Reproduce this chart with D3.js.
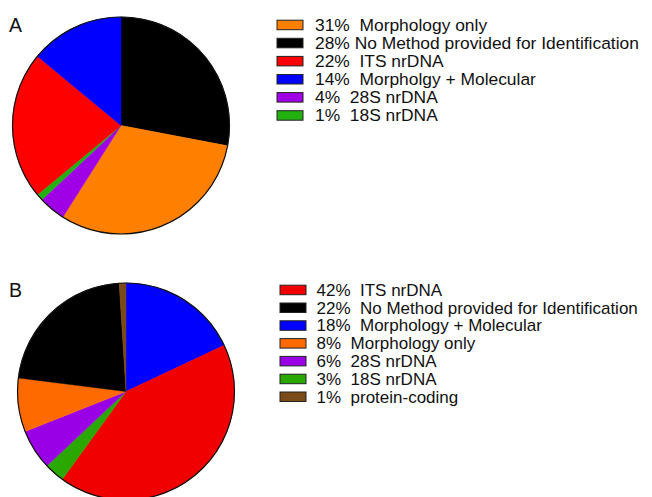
<!DOCTYPE html>
<html><head><meta charset="utf-8">
<script src="https://cdn.jsdelivr.net/npm/d3@7"></script>
<style>body{margin:0;background:#fff}svg{display:block}text{font-family:"Liberation Sans",Arial,sans-serif;white-space:pre}</style>
</head><body>
<svg id="c" width="652" height="497"></svg>
<script>
// Panel A (legend order)
const labelsA = ["31%  Morphology only","28% No Method provided for Identification","22%  ITS nrDNA","14%  Morpholgy + Molecular","4%  28S nrDNA","1%  18S nrDNA"];
const keysA = ["morph","none","its","morphmol","28s","18s"];
const valuesA = [31,28,22,14,4,1];
const pieOrderA = ["none","morph","28s","18s","its","morphmol"];
// Panel B (legend order)
const labelsB = ["42%  ITS nrDNA","22%  No Method provided for Identification","18%  Morphology + Molecular","8%  Morphology only","6%  28S nrDNA","3%  18S nrDNA","1%  protein-coding"];
const keysB = ["its","none","morphmol","morph","28s","18s","prot"];
const valuesB = [42,22,18,8,6,3,1];
const pieOrderB = ["morphmol","its","18s","28s","morph","none","prot"];
const colorsA = {morph:"#ff8000",none:"#000000",its:"#ff0000",morphmol:"#0000ff","28s":"#a000e6","18s":"#22b010"};
const colorsB = {morph:"#ff6a00",none:"#000000",its:"#f00000",morphmol:"#0000ff","28s":"#9a00e6","18s":"#2aa800",prot:"#7a4a18"};

const svg = d3.select("#c");

function panel(cfg){
  const g = svg.append("g");
  const data = cfg.order.map(k => ({key:k, value: cfg.values[cfg.keys.indexOf(k)]}));
  const pie = d3.pie().sort(null).value(d => d.value);
  const arc = d3.arc().innerRadius(0).outerRadius(cfg.r);
  const pg = g.append("g").attr("transform",`translate(${cfg.cx},${cfg.cy})`);
  pg.selectAll("path").data(pie(data)).join("path")
    .attr("d",arc).attr("fill",d=>cfg.colors[d.data.key])
    .attr("stroke",d=>cfg.colors[d.data.key]).attr("stroke-width",0.5);
  pg.append("circle").attr("r",cfg.r).attr("fill","none").attr("stroke","#111").attr("stroke-width",1.2);
  g.append("text").attr("x",cfg.lx).attr("y",cfg.ly).attr("font-size",19.5).attr("fill","#111").text(cfg.letter);
  const y = d3.scaleLinear().domain([0,1]).range([cfg.legY, cfg.legY + cfg.step]);
  const leg = g.selectAll("g.leg").data(cfg.keys).join("g").attr("class","leg")
    .attr("transform",(d,i)=>`translate(0,${y(i)})`);
  leg.append("rect").attr("x",cfg.boxX).attr("y",-10.5).attr("width",26).attr("height",9.5)
    .attr("fill",d=>cfg.colors[d]).attr("stroke","#222").attr("stroke-width",1);
  leg.append("text").attr("x",cfg.textX).attr("y",0).attr("font-size",cfg.fs).attr("fill","#111")
    .text((d,i)=>cfg.labels[i]);
}

panel({keys:keysA,values:valuesA,order:pieOrderA,labels:labelsA,colors:colorsA,fs:17.4,
  cx:121,cy:125.5,r:108.5,letter:"A",lx:9,ly:32,legY:30.7,step:18.1,boxX:277,textX:315});
panel({keys:keysB,values:valuesB,order:pieOrderB,labels:labelsB,colors:colorsB,fs:17.0,
  cx:126,cy:391.5,r:108.5,letter:"B",lx:9,ly:297,legY:295.7,step:17.8,boxX:280,textX:316.5});
</script>
</body></html>
